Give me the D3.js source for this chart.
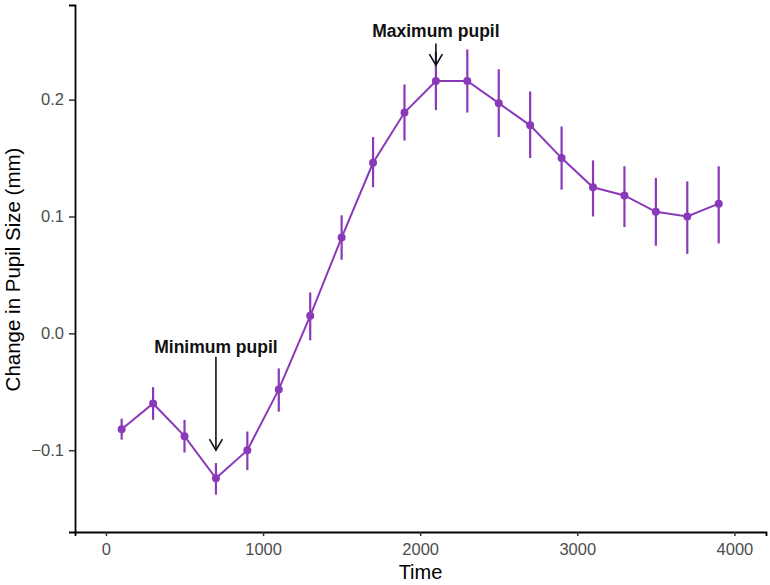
<!DOCTYPE html>
<html>
<head>
<meta charset="utf-8">
<script src="https://cdn.jsdelivr.net/npm/d3@7"></script>
<style>
  html, body { margin: 0; padding: 0; background: #fff; }
  svg { display: block; font-family: "Liberation Sans", Arial, Helvetica, sans-serif; }
</style>
</head>
<body>
<div id="chart"></div>
<script>
// ---- data ----
const times = [100, 300, 500, 700, 900, 1100, 1300, 1500, 1700, 1900, 2100, 2300, 2500, 2700, 2900, 3100, 3300, 3500, 3700, 3900];
const means = [-0.082, -0.060, -0.088, -0.124, -0.100, -0.048, 0.015, 0.082, 0.146, 0.189, 0.216, 0.216, 0.197, 0.178, 0.150, 0.125, 0.118, 0.104, 0.100, 0.111];
const lower = [-0.091, -0.074, -0.102, -0.138, -0.117, -0.067, -0.006, 0.063, 0.125, 0.165, 0.191, 0.189, 0.168, 0.150, 0.123, 0.100, 0.091, 0.075, 0.068, 0.077];
const upper = [-0.073, -0.046, -0.074, -0.111, -0.084, -0.030, 0.035, 0.101, 0.168, 0.213, 0.241, 0.243, 0.226, 0.207, 0.177, 0.148, 0.143, 0.133, 0.130, 0.143];
const xTicks = [0, 1000, 2000, 3000, 4000];
const yTicks = [-0.1, 0.0, 0.1, 0.2];
const annotations = [
  { label: "Maximum pupil", x: 2100, textY: 0.2535, from: 0.2480, to: 0.2295 },
  { label: "Minimum pupil", x: 700, textY: -0.0170, from: -0.0200, to: -0.1000 }
];

// ---- layout ----
const W = 770, H = 585;
const purple = "#8a3ab9";
const svg = d3.select("#chart").append("svg").attr("width", W).attr("height", H);

const x = d3.scaleLinear().domain([-197, 4201]).range([75, 766]);
const y = d3.scaleLinear().domain([-0.170, 0.281]).range([532, 5]);

const data = times.map((t, i) => ({ t, m: means[i], lo: lower[i], hi: upper[i] }));

// axes
const xAxis = svg.append("g").attr("transform", `translate(0,${y.range()[0]})`)
  .call(d3.axisBottom(x).tickValues(xTicks).tickFormat(d3.format("d")).tickSizeOuter(0).tickSize(4).tickPadding(7));
const yAxis = svg.append("g").attr("transform", `translate(${x.range()[0]},0)`)
  .call(d3.axisLeft(y).tickValues(yTicks).tickFormat(d => d === 0 ? "0.0" : d3.format(".1f")(d).replace("-", "\u2212")).tickSizeOuter(0).tickSize(6).tickPadding(5));

[xAxis, yAxis].forEach(g => {
  g.select(".domain").attr("stroke", "#000").attr("stroke-width", 1.8);
  g.selectAll(".tick line").attr("stroke", "#333").attr("stroke-width", 1.5);
  g.selectAll(".tick text").attr("fill", "#4d4d4d").style("font-size", "16.5px");
});

// axis titles
svg.append("text").attr("x", (x.range()[0] + x.range()[1]) / 2).attr("y", 579)
  .attr("text-anchor", "middle").style("font-size", "20px").attr("fill", "#000").text("Time");
svg.append("text").attr("transform", `translate(20,${(y.range()[0] + y.range()[1]) / 2 + 1}) rotate(-90)`)
  .attr("text-anchor", "middle").style("font-size", "20.5px").attr("fill", "#000").text("Change in Pupil Size (mm)");

// error bars
svg.append("g").selectAll("line").data(data).join("line")
  .attr("x1", d => x(d.t)).attr("x2", d => x(d.t))
  .attr("y1", d => y(d.lo)).attr("y2", d => y(d.hi))
  .attr("stroke", purple).attr("stroke-width", 2.2);

// line
svg.append("path").datum(data)
  .attr("d", d3.line().x(d => x(d.t)).y(d => y(d.m)))
  .attr("fill", "none").attr("stroke", purple).attr("stroke-width", 2);

// points
svg.append("g").selectAll("circle").data(data).join("circle")
  .attr("cx", d => x(d.t)).attr("cy", d => y(d.m)).attr("r", 4)
  .attr("fill", purple);

// annotations
const ann = svg.append("g");
annotations.forEach(a => {
  const ax = x(a.x);
  ann.append("text").attr("x", ax).attr("y", y(a.textY))
    .attr("text-anchor", "middle").style("font-size", "17.5px").style("font-weight", "bold")
    .attr("fill", "#111").text(a.label);
  const y1 = y(a.from), y2 = y(a.to);
  ann.append("line").attr("x1", ax).attr("x2", ax).attr("y1", y1).attr("y2", y2)
    .attr("stroke", "#111").attr("stroke-width", 1.6);
  ann.append("path")
    .attr("d", `M${ax - 6.5},${y2 - 11} L${ax},${y2} L${ax + 6.5},${y2 - 11}`)
    .attr("fill", "none").attr("stroke", "#111").attr("stroke-width", 1.6);
});
</script>
</body>
</html>
